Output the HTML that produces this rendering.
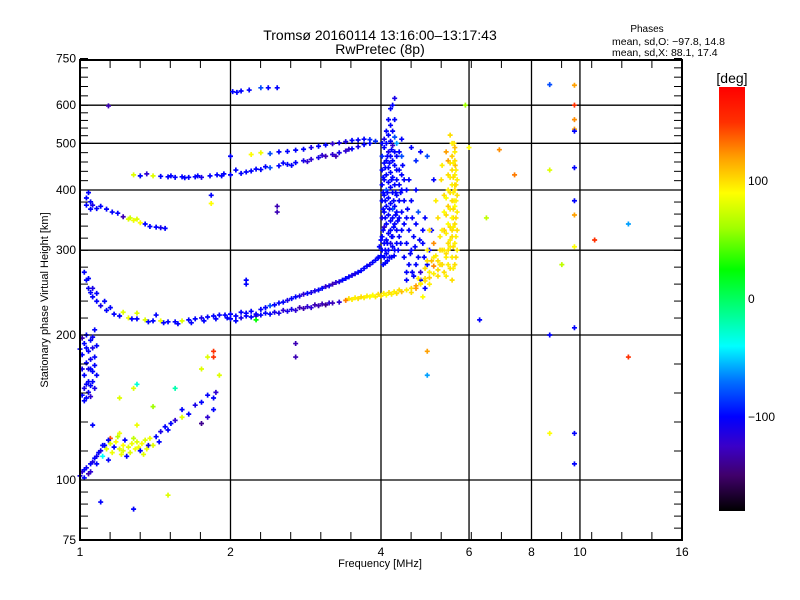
<!DOCTYPE html>
<html><head><meta charset="utf-8"><title>Ionogram</title>
<style>
html,body{margin:0;padding:0;background:#fff;}
svg{display:block;font-family:"Liberation Sans",sans-serif;}
</style></head>
<body>
<svg id="chart" width="800" height="600" viewBox="0 0 800 600">
<rect x="0" y="0" width="800" height="600" fill="#fff"/>
<text x="380" y="40" text-anchor="middle" font-size="14">Tromsø 20160114 13:16:00–13:17:43</text>
<text x="380" y="54" text-anchor="middle" font-size="14">RwPretec (8p)</text>
<text x="647" y="32" text-anchor="middle" font-size="10">Phases</text>
<text x="612" y="45" font-size="10.5">mean, sd,O: −97.8, 14.8</text>
<text x="612" y="56" font-size="10.5">mean, sd,X:  88.1, 17.4</text>
<g id="grid"></g>
<g id="marks"></g>
<g id="axes"></g>
<text x="380" y="567" text-anchor="middle" font-size="11">Frequency [MHz]</text>
<text transform="translate(48,300) rotate(-90)" text-anchor="middle" font-size="11">Stationary phase Virtual Height [km]</text>
<defs><linearGradient id="cmap" x1="0" y1="1" x2="0" y2="0"></linearGradient></defs>
<rect x="719" y="87" width="26" height="424" fill="url(#cmap)"/>
<text x="732" y="83" text-anchor="middle" font-size="14">[deg]</text>
<g id="cbticks"></g>
</svg>
<script>
const xTickValues = [1, 2, 4, 6, 8, 10, 16];
const xGridValues = [2, 4, 6, 8, 10];
const yTickValues = [75, 100, 200, 300, 400, 500, 600, 750];
const yGridValues = [100, 200, 300, 400, 500, 600];
const cbTickValues = [100, 0, -100];
const colorStops = [[-180,'#000000'],[-150,'#40006a'],[-125,'#3a00c8'],[-100,'#0000ff'],[-70,'#0070ff'],[-40,'#00ffff'],[-15,'#00ff9a'],[25,'#00ff00'],[60,'#a0ff00'],[90,'#ffff00'],[120,'#ffa000'],[150,'#ff3000'],[180,'#ff0000']];

const eLayer = [[1.0,102,-110],[1.01,104,-120],[1.02,101,-100],[1.03,106,-105],[1.04,103,-130],[1.05,108,-100],[1.06,109,-110],[1.07,111,-100],[1.08,112,-105],[1.09,114,-100],[1.1,115,-110],[1.11,112,-40],[1.12,118,-100],[1.13,116,80],[1.15,119,80],[1.16,114,85],[1.17,117,-100],[1.18,120,90],[1.2,116,80],[1.21,113,85],[1.22,118,90],[1.23,121,-100],[1.25,117,80],[1.26,114,80],[1.27,119,85],[1.28,122,70],[1.3,120,80],[1.31,117,85],[1.32,115,-100],[1.33,119,90],[1.35,121,80],[1.37,118,-110],[1.38,122,85],[1.4,118,80],[1.42,123,-100],[1.45,126,-110],[1.48,129,-100],[1.5,127,-100],[1.52,131,-100],[1.55,133,-120],[1.6,140,-100],[1.65,137,-100],[1.7,143,-110],[1.75,145,-100],[1.8,150,-100],[1.85,148,-100],[1.87,152,-120],[1.85,140,-100],[1.8,135,-120],[1.75,131,-140],[1.06,130,-100],[1.15,122,140],[1.2,125,85],[1.3,130,85],[1.6,135,80],[1.4,142,60],[1.2,148,80],[1.55,155,-20],[1.75,170,80],[1.85,180,150],[1.9,165,80],[1.3,158,-30],[1.28,155,80],[1.1,90,-100],[1.28,87,-100],[1.5,93,80],[1.24,112,-100],[1.14,110,-100],[1.36,116,85],[1.19,123,70],[1.02,105,-100],[1.05,104,-120],[1.08,108,-100],[1.11,118,-100],[1.14,121,-100],[1.22,115,80],[1.29,116,85],[1.34,113,80],[1.44,120,-100]];

const lowBand = [[1.01,150,-100],[1.02,155,-110],[1.03,148,-100],[1.04,152,-105],[1.05,157,-100],[1.06,160,-100],[1.02,165,-100],[1.04,170,-110],[1.06,168,-100],[1.03,175,-100],[1.05,178,-105],[1.07,173,-100],[1.01,182,-100],[1.04,185,-100],[1.06,188,-110],[1.02,192,-100],[1.05,195,-100],[1.03,200,-100],[1.06,198,-105],[1.07,205,-100],[1.01,197,-130],[1.08,190,-100],[1.04,160,-100],[1.0,187,-100],[1.07,180,-100],[1.08,165,-100],[1.07,155,-110],[1.03,158,-100],[1.02,146,-100],[1.05,149,-120],[1.01,170,-110],[1.03,188,-100]];

const fTraceO = [[1.02,270,-100],[1.03,260,-100],[1.04,250,-105],[1.05,245,-100],[1.06,240,-100],[1.08,235,-100],[1.1,230,-110],[1.13,225,-100],[1.17,221,-100],[1.2,219,-100],[1.25,217,85],[1.3,216,-100],[1.35,215,80],[1.4,214,-100],[1.45,214,85],[1.5,213,-100],[1.55,213,-100],[1.6,214,80],[1.65,215,-100],[1.7,216,-100],[1.75,217,-110],[1.8,218,-100],[1.85,219,-100],[1.9,220,-100],[1.95,220,-100],[2.0,221,-100],[2.05,219,-100],[2.1,223,-100],[2.2,224,-100],[2.3,226,-100],[2.4,230,-80],[2.5,233,-100],[2.6,236,-110],[2.7,240,-100],[2.8,243,-120],[2.9,245,-110],[3.0,248,-100],[3.1,252,-120],[3.2,255,-130],[3.3,258,-110],[3.4,262,-100],[3.5,266,-110],[3.6,270,-100],[3.7,275,-100],[3.8,280,-110],[3.9,286,-100],[4.0,292,-100],[1.04,262,-100],[1.06,250,-110],[1.08,244,-100],[1.12,235,-100],[1.15,228,-100],[1.22,223,80],[1.42,220,-100],[1.3,222,80],[1.27,216,-100],[1.37,213,-100],[1.47,212,-100],[1.57,211,-100],[1.67,212,-100],[1.77,214,-100],[1.87,216,-100],[1.97,217,-100],[2.15,222,-100],[2.25,221,-100],[2.35,228,-100],[2.45,231,-100],[2.55,234,-100],[2.65,238,-100],[2.75,241,-110],[2.85,244,-100],[2.95,247,-110],[3.05,250,-100],[3.15,253,-110],[3.25,257,-120],[3.35,260,-100],[3.45,264,-100],[3.55,268,-110],[3.65,272,-100],[3.75,278,-100],[3.85,283,-100],[3.95,289,-100]];

const fTraceX = [[2.0,216,-100],[2.1,217,-110],[2.2,218,-100],[2.3,220,-100],[2.4,221,-100],[2.5,222,-110],[2.6,224,-110],[2.7,225,-120],[2.8,227,-130],[2.9,228,-120],[3.0,230,-130],[3.1,231,-140],[3.2,233,-130],[3.3,234,-120],[3.4,236,130],[3.5,237,95],[3.6,238,100],[3.7,239,95],[3.8,240,90],[3.9,240,95],[4.0,241,100],[4.1,242,90],[4.2,243,95],[4.3,244,100],[4.4,246,110],[4.5,248,95],[4.6,250,100],[4.7,253,120],[4.8,256,95],[4.9,259,100],[5.0,263,105],[5.1,268,95],[5.2,273,100],[5.3,280,110],[5.4,290,95],[5.45,300,100],[5.5,315,95],[5.55,330,100],[5.58,350,105],[5.6,380,95],[5.62,410,100],[5.63,450,110],[5.62,480,95],[5.6,500,100],[2.05,214,-100],[2.15,219,-100],[2.25,219,-110],[2.35,222,-100],[2.45,223,-110],[2.55,225,-120],[2.65,226,-110],[2.75,228,-130],[2.85,229,-120],[2.95,231,-130],[3.05,232,-130],[3.15,233,-120],[3.45,238,100],[3.55,239,95],[3.65,240,100],[3.75,241,95],[3.85,242,90],[3.95,243,100],[4.05,244,95],[4.15,245,100],[4.25,246,95],[4.35,248,100]];

const f2Left = [[1.04,395,-100],[1.03,385,-100],[1.05,378,-100],[1.06,372,-110],[1.08,366,-100],[1.1,370,-100],[1.13,365,-100],[1.16,360,-100],[1.19,358,-100],[1.22,352,-130],[1.25,348,80],[1.28,346,85],[1.3,348,80],[1.32,342,90],[1.35,340,-100],[1.38,336,-100],[1.42,335,-100],[1.45,334,-110],[1.48,333,-100],[1.05,365,-100],[1.03,372,-100],[1.26,350,75]];

const upperTrace = [[1.28,430,80],[1.32,428,-100],[1.36,432,-120],[1.4,428,80],[1.45,427,-100],[1.5,426,-100],[1.55,425,-100],[1.6,426,-100],[1.65,425,-100],[1.7,426,-100],[1.75,425,-110],[1.82,428,-100],[1.88,430,-100],[1.94,432,-100],[2.0,430,-100],[2.1,433,-100],[2.2,438,-100],[2.3,441,-100],[2.4,445,-80],[2.5,449,-100],[2.6,452,-100],[2.7,456,-100],[2.8,460,-110],[2.9,463,-120],[3.0,467,-110],[3.1,470,-130],[3.2,474,-120],[3.3,478,-110],[3.4,482,-120],[3.5,487,-100],[3.6,492,-110],[3.7,497,-100],[3.8,500,-100],[3.9,505,-90],[2.05,440,-100],[2.15,436,-100],[1.52,428,-100],[1.62,424,-100],[1.72,428,-100],[1.92,428,-100],[2.25,442,-100],[2.35,447,-100],[2.55,455,-100],[2.65,450,-100],[2.85,458,-120],[3.05,472,-120],[3.25,470,-130],[3.45,486,-120]];

const upperTrace2 = [[2.0,470,-100],[2.2,474,90],[2.3,478,85],[2.4,476,-80],[2.5,480,-100],[2.6,481,-100],[2.7,484,-100],[2.8,486,-100],[2.9,490,-110],[3.0,493,-100],[3.1,496,-100],[3.2,499,-120],[3.3,501,-110],[3.4,504,-110],[3.5,507,-100],[3.6,508,-100],[3.7,510,-100],[3.8,509,-90]];

const topDots = [[2.02,640,-100],[2.06,638,-100],[2.1,642,-100],[2.18,645,-100],[2.3,652,-80],[2.38,652,-100],[2.48,652,-100],[1.14,598,-130],[1.05,170,-100]];

const blueColumn = [[4.02,300,-100],[4.02,320,-100],[4.02,350,-110],[4.02,380,-100],[4.02,410,-100],[4.02,440,-100],[4.02,470,-90],[4.02,500,-100],[4.06,290,-100],[4.06,310,-100],[4.06,335,-120],[4.06,360,-100],[4.06,390,-100],[4.06,420,-100],[4.06,455,-100],[4.06,490,-100],[4.06,510,-110],[4.1,295,-100],[4.1,315,-100],[4.1,340,-100],[4.1,370,-100],[4.1,400,-80],[4.1,430,-100],[4.1,460,-100],[4.1,500,-100],[4.1,530,-100],[4.14,300,-100],[4.14,325,-100],[4.14,355,-100],[4.14,385,-100],[4.14,415,-100],[4.14,445,-100],[4.14,480,-110],[4.14,520,-100],[4.14,560,-100],[4.18,310,-110],[4.18,330,-100],[4.18,345,-100],[4.18,375,-100],[4.18,405,-100],[4.18,435,-100],[4.18,470,-100],[4.18,505,-100],[4.18,545,-100],[4.18,590,-100],[4.22,305,-100],[4.22,320,-100],[4.22,350,-100],[4.22,365,-80],[4.22,395,-100],[4.22,425,-100],[4.22,460,-100],[4.22,495,-120],[4.22,530,-100],[4.22,600,-100],[4.26,300,-100],[4.26,340,-100],[4.26,370,-100],[4.26,410,-100],[4.26,450,-100],[4.26,480,-100],[4.26,515,-80],[4.26,560,-100],[4.26,620,-110],[4.3,310,-100],[4.3,330,-100],[4.3,360,-100],[4.3,390,-100],[4.3,420,-100],[4.3,440,-100],[4.3,470,-100],[4.3,500,-60],[4.35,320,-100],[4.35,350,-100],[4.35,380,-100],[4.35,410,-100],[4.35,440,-100],[4.35,480,-100],[4.4,330,-100],[4.4,360,-100],[4.4,400,-100],[4.4,430,-100],[4.4,470,-80],[4.4,510,-100],[4.45,340,-100],[4.45,380,-100],[4.45,420,-100],[4.5,350,-100],[4.5,400,-100],[3.95,290,-100],[3.97,305,-100],[4.0,315,-100],[4.04,280,-100],[4.08,282,-100],[4.12,285,-100],[4.2,290,-100],[4.25,292,-100],[4.33,300,-100],[4.38,310,-100],[4.04,330,-100],[4.04,365,-100],[4.04,395,-100],[4.04,425,-100],[4.08,300,-100],[4.08,350,-100],[4.08,380,-100],[4.08,445,-100],[4.12,310,-100],[4.12,395,-100],[4.12,470,-100],[4.16,290,-100],[4.16,365,-100],[4.16,455,-100],[4.2,320,-100],[4.2,420,-100],[4.2,485,-100],[4.24,335,-100],[4.24,380,-100],[4.28,355,-100],[4.28,395,-100],[4.32,345,-100],[4.38,395,-100],[4.42,450,-100]];

const blueSpread = [[4.5,260,-100],[4.55,280,-100],[4.6,300,-100],[4.65,320,-100],[4.7,340,-100],[4.75,290,-100],[4.8,270,-120],[4.85,310,-100],[4.9,350,-100],[4.6,380,-100],[4.7,400,-100],[4.55,420,-100],[4.8,260,-100],[4.95,280,-100],[5.0,300,-100],[5.05,330,-100],[4.65,265,-100],[4.5,310,-100],[4.45,290,-100],[4.9,250,-100],[4.75,360,-80],[5.1,420,-100],[4.7,460,-90],[4.8,480,-100],[4.6,490,-100],[4.95,470,-80],[4.55,330,-100],[4.62,350,-100],[4.85,330,-100],[4.7,280,-100],[4.5,270,-100],[4.58,295,-100],[4.68,305,-100],[4.78,315,-100],[4.88,290,-100],[4.62,270,-100],[4.52,365,-100]];

const yellowFill = [[5.35,270,100],[5.35,300,95],[5.35,330,110],[5.35,360,90],[5.35,390,100],[5.45,280,95],[5.45,310,100],[5.45,340,90],[5.45,370,105],[5.45,400,95],[5.45,430,100],[5.45,460,120],[5.55,260,100],[5.55,290,95],[5.55,320,100],[5.55,350,90],[5.55,380,100],[5.55,410,95],[5.55,440,100],[5.55,470,105],[5.55,500,95],[5.62,280,100],[5.62,310,95],[5.62,340,100],[5.62,370,90],[5.62,400,100],[5.62,430,95],[5.62,460,100],[5.62,490,110],[5.68,300,95],[5.68,330,100],[5.68,360,95],[5.68,390,100],[5.68,420,95],[4.6,245,100],[4.7,250,120],[4.8,255,95],[4.9,262,100],[5.0,270,95],[5.1,278,125],[5.2,285,100],[4.75,262,95],[4.9,275,100],[5.05,285,110],[5.15,292,95],[5.25,300,100],[5.0,255,95],[5.2,265,100],[4.85,240,90],[5.3,280,100],[5.25,320,95],[5.2,350,100],[5.1,310,125],[5.15,380,95],[5.0,330,100],[4.95,300,95],[5.28,420,100],[5.4,480,120],[5.3,450,95],[5.5,520,100],[5.4,265,95],[5.4,295,100],[5.4,325,95],[5.4,355,100],[5.4,385,90],[5.5,275,100],[5.5,305,95],[5.5,335,100],[5.5,365,95],[5.5,395,100],[5.5,425,95],[5.5,455,100],[5.58,275,95],[5.58,305,100],[5.58,335,95],[5.58,365,100],[5.58,395,95],[5.58,425,100],[5.58,455,95],[5.65,290,100],[5.65,320,95],[5.65,350,100],[5.65,380,95],[5.65,410,100],[5.65,440,95],[5.3,300,100],[5.3,330,95],[5.25,280,100],[5.1,290,95],[4.95,285,100]];

const scatterPts = [[9.75,660,120],[9.75,600,150],[9.75,560,125],[9.75,535,120],[9.75,530,-100],[9.75,445,-100],[9.75,380,-100],[9.75,355,120],[9.75,305,90],[9.75,207,-100],[8.7,662,-80],[8.7,440,80],[8.7,200,-100],[6.9,485,125],[7.4,430,130],[6.5,350,70],[9.2,280,70],[10.7,315,150],[12.5,340,-60],[12.5,180,150],[6.3,215,-100],[4.95,185,120],[4.95,165,-60],[9.75,125,-100],[9.75,108,-100],[8.7,125,90],[1.85,185,150],[1.8,180,80],[2.7,192,-130],[2.7,180,-130],[2.15,260,-100],[2.15,255,-100],[2.25,215,25],[2.48,370,-130],[2.48,360,-130],[1.83,375,90],[1.83,390,-100],[5.9,600,60],[6.0,490,90]];

const allSets = [eLayer, lowBand, fTraceO, fTraceX, f2Left, upperTrace, upperTrace2, topDots, blueColumn, blueSpread, yellowFill, scatterPts];

const NS = 'http://www.w3.org/2000/svg';
const L = 80, R = 682, T = 60, B = 540;
function X(f){ return L + 150.5 * Math.log2(f); }
function Y(h){ return 480 - 145 * Math.log2(h / 100); }
function hex2rgb(h){ return [parseInt(h.substr(1,2),16),parseInt(h.substr(3,2),16),parseInt(h.substr(5,2),16)]; }
function color(v){
  if (v <= colorStops[0][0]) return colorStops[0][1];
  for (let i = 1; i < colorStops.length; i++) {
    if (v <= colorStops[i][0]) {
      const a = colorStops[i-1], b = colorStops[i];
      const t = (v - a[0]) / (b[0] - a[0]);
      const ca = hex2rgb(a[1]), cb = hex2rgb(b[1]);
      return 'rgb(' + ca.map((c,k)=>Math.round(c + (cb[k]-c)*t)).join(',') + ')';
    }
  }
  return colorStops[colorStops.length-1][1];
}
function mk(tag, attrs, parent){
  const e = document.createElementNS(NS, tag);
  for (const k in attrs) e.setAttribute(k, attrs[k]);
  parent.appendChild(e);
  return e;
}
const grid = document.getElementById('grid');
const axes = document.getElementById('axes');
const marks = document.getElementById('marks');

xGridValues.forEach(v => {
  const ln = mk('line', {x1:X(v), x2:X(v), y1:T, y2:B, stroke:'#000', 'stroke-width':1.3}, grid);
  
  
});
yGridValues.forEach(v => {
  const ln = mk('line', {x1:L, x2:R, y1:Y(v), y2:Y(v), stroke:'#000', 'stroke-width':1.3}, grid);
  
  
});

allSets.forEach(set => {
  set.forEach(p => {
    const x = X(p[0]), y = Y(p[1]);
    const c = color(p[2]);
    const m = mk('path', {d:'M'+(x-2.5)+' '+y+'h5M'+x+' '+(y-2.5)+'v5', stroke:c, 'stroke-width':1.7, fill:'none'}, marks);
    
    
  });
});

const frame = mk('rect', {x:L, y:T, width:R-L, height:B-T, fill:'none', stroke:'#000', 'stroke-width':2}, axes);



for (let i = 1; i < 20; i++) {
  const x = L + i * (R - L) / 20;
  const t1 = mk('line', {x1:x, x2:x, y1:B, y2:B-8, stroke:'#000', 'stroke-width':1}, axes);
  
  
  const t2 = mk('line', {x1:x, x2:x, y1:T, y2:T+8, stroke:'#000', 'stroke-width':1}, axes);
  
  
}
for (let i = 0; i < yTickValues.length - 1; i++) {
  const ya = Y(yTickValues[i]), yb = Y(yTickValues[i+1]);
  for (let k = 0; k <= 5; k++) {
    const y = ya + (yb - ya) * k / 5;
    const t1 = mk('line', {x1:L, x2:L+8, y1:y, y2:y, stroke:'#000', 'stroke-width':1}, axes);
    
    
    const t2 = mk('line', {x1:R, x2:R-8, y1:y, y2:y, stroke:'#000', 'stroke-width':1}, axes);
    
    
  }
}
xTickValues.forEach(v => {
  const t = mk('text', {x:X(v), y:556, 'text-anchor':'middle', 'font-size':12}, axes);
  t.textContent = v;
  
  
});
yTickValues.forEach(v => {
  const t = mk('text', {x:76, y:Y(v)+4, 'text-anchor':'end', 'font-size':12}, axes);
  t.textContent = v;
  
  
});

const grad = document.getElementById('cmap');
colorStops.forEach(s => {
  mk('stop', {offset:((s[0] + 180) / 360).toFixed(4), 'stop-color':s[1]}, grad);
});
const cb = document.getElementById('cbticks');
cbTickValues.forEach(v => {
  const y = 511 - (v + 180) / 360 * 424;
  const t = mk('text', {x:748, y:y+4, 'font-size':12}, cb);
  t.textContent = v === 0 ? '0' : (v < 0 ? '−' + Math.abs(v) : String(v));
  
  
});
</script>
</body></html>
